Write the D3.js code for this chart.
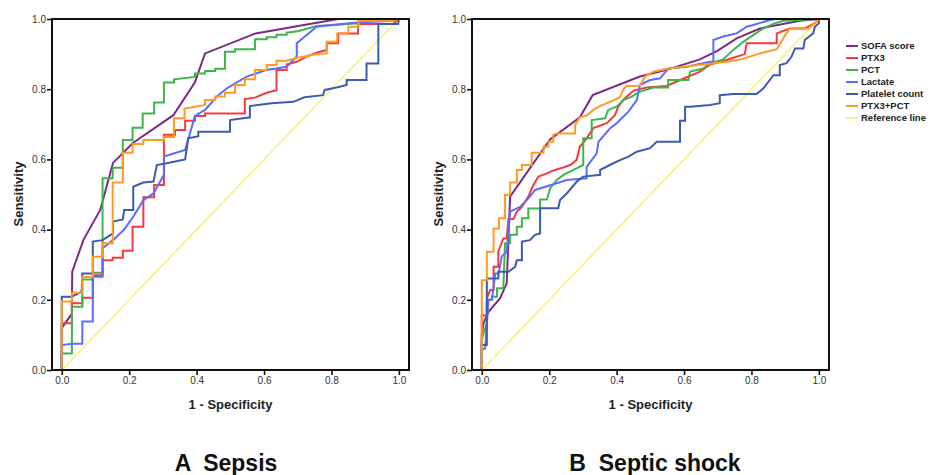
<!DOCTYPE html>
<html>
<head>
<meta charset="utf-8">
<script src="https://cdn.jsdelivr.net/npm/d3@7"></script>
<style>
  body { margin: 0; background: #fff; }
  svg { font-family: 'Liberation Sans', Arial, sans-serif; }
</style>
</head>
<body>
<div id="chart"></div>
<script>
// ---- data ----
var seriesNames = ['SOFA score', 'PTX3', 'PCT', 'Lactate', 'Platelet count', 'PTX3+PCT', 'Reference line'];
var seriesColors = ['#7d2a86', '#f23a3f', '#3cb54a', '#5b6cff', '#3d5cae', '#ff9a22', '#f7f27c'];
var tickValues = [0, 0.2, 0.4, 0.6, 0.8, 1.0];
var panelLabels = ['A  Sepsis', 'B  Septic shock'];

var referenceLine = [[0, 0], [1, 1]];

// A: sepsis
var sepsisSofa = [[0,0],[0,0.12],[0.03,0.16],[0.031,0.28],[0.064,0.37],[0.114,0.456],[0.152,0.59],[0.21,0.646],[0.331,0.726],[0.395,0.82],[0.425,0.902],[0.575,0.959],[0.82,1],[1,1]];
var sepsisPtx3 = [[0,0],[0,0.133],[0.03,0.133],[0.03,0.19],[0.061,0.19],[0.061,0.206],[0.092,0.206],[0.092,0.27],[0.121,0.27],[0.121,0.313],[0.151,0.313],[0.151,0.32],[0.181,0.32],[0.181,0.34],[0.21,0.34],[0.21,0.408],[0.242,0.408],[0.242,0.492],[0.274,0.492],[0.274,0.527],[0.303,0.527],[0.303,0.67],[0.336,0.67],[0.336,0.684],[0.366,0.684],[0.366,0.71],[0.395,0.71],[0.395,0.724],[0.425,0.724],[0.425,0.731],[0.543,0.731],[0.543,0.772],[0.573,0.776],[0.608,0.79],[0.637,0.797],[0.637,0.855],[0.667,0.855],[0.667,0.87],[0.697,0.878],[0.726,0.893],[0.756,0.904],[0.786,0.912],[0.786,0.931],[0.82,0.931],[0.82,0.959],[0.879,0.959],[0.879,0.986],[0.983,0.986],[1,1]];
var sepsisPct = [[0,0],[0,0.047],[0.03,0.047],[0.03,0.18],[0.061,0.18],[0.061,0.258],[0.092,0.258],[0.092,0.277],[0.121,0.277],[0.121,0.546],[0.151,0.546],[0.151,0.576],[0.181,0.576],[0.181,0.655],[0.21,0.655],[0.21,0.69],[0.24,0.69],[0.24,0.731],[0.274,0.731],[0.274,0.762],[0.303,0.762],[0.303,0.819],[0.333,0.819],[0.333,0.828],[0.395,0.835],[0.395,0.845],[0.425,0.845],[0.425,0.852],[0.455,0.852],[0.455,0.858],[0.484,0.858],[0.484,0.907],[0.514,0.907],[0.514,0.914],[0.573,0.914],[0.573,0.942],[0.608,0.942],[0.608,0.948],[0.637,0.948],[0.637,0.955],[0.667,0.955],[0.667,0.961],[0.7,0.965],[0.756,0.98],[0.88,0.988],[0.88,0.995],[0.94,1],[1,1]];
var sepsisLactate = [[0,0],[0,0.071],[0.03,0.075],[0.061,0.075],[0.061,0.138],[0.092,0.138],[0.092,0.266],[0.121,0.266],[0.121,0.347],[0.152,0.37],[0.185,0.4],[0.212,0.437],[0.242,0.484],[0.272,0.503],[0.303,0.556],[0.303,0.608],[0.366,0.627],[0.395,0.724],[0.425,0.741],[0.46,0.779],[0.489,0.802],[0.548,0.836],[0.608,0.855],[0.667,0.864],[0.697,0.893],[0.697,0.931],[0.756,0.978],[0.875,0.99],[0.99,0.995],[1,1]];
var sepsisPlatelet = [[0,0],[0,0.209],[0.03,0.209],[0.059,0.223],[0.061,0.275],[0.092,0.275],[0.092,0.366],[0.121,0.37],[0.152,0.389],[0.152,0.423],[0.181,0.429],[0.185,0.456],[0.212,0.456],[0.212,0.522],[0.242,0.534],[0.272,0.537],[0.282,0.584],[0.311,0.589],[0.366,0.6],[0.375,0.66],[0.405,0.666],[0.405,0.679],[0.499,0.679],[0.499,0.712],[0.558,0.72],[0.558,0.752],[0.622,0.76],[0.687,0.764],[0.72,0.777],[0.775,0.783],[0.78,0.798],[0.815,0.805],[0.845,0.812],[0.845,0.826],[0.904,0.826],[0.904,0.873],[0.939,0.873],[0.939,0.986],[0.998,0.986],[1,1]];
var sepsisCombo = [[0,0],[0,0.195],[0.03,0.195],[0.03,0.22],[0.061,0.22],[0.061,0.265],[0.092,0.265],[0.092,0.323],[0.121,0.323],[0.121,0.361],[0.151,0.361],[0.151,0.534],[0.181,0.534],[0.181,0.619],[0.21,0.619],[0.21,0.644],[0.242,0.644],[0.242,0.655],[0.303,0.655],[0.303,0.664],[0.333,0.664],[0.333,0.717],[0.364,0.717],[0.364,0.745],[0.395,0.75],[0.425,0.755],[0.425,0.769],[0.455,0.769],[0.455,0.779],[0.484,0.779],[0.484,0.79],[0.514,0.79],[0.514,0.812],[0.543,0.812],[0.543,0.828],[0.573,0.828],[0.573,0.855],[0.608,0.855],[0.608,0.869],[0.637,0.869],[0.637,0.881],[0.667,0.881],[0.697,0.889],[0.756,0.9],[0.786,0.902],[0.786,0.935],[0.817,0.935],[0.817,0.959],[0.85,0.959],[0.85,0.978],[0.88,0.978],[0.88,0.995],[0.98,0.995],[1,1]];

// B: septic shock
var shockSofa = [[0,0],[0,0.1],[0.005,0.133],[0.02,0.166],[0.054,0.204],[0.074,0.247],[0.084,0.494],[0.2025,0.657],[0.291,0.72],[0.329,0.783],[0.469,0.836],[0.548,0.855],[0.647,0.885],[0.7,0.91],[0.756,0.945],[0.825,0.973],[0.944,0.995],[1,1]];
var shockPtx3 = [[0,0],[0,0.155],[0.015,0.155],[0.015,0.204],[0.025,0.228],[0.035,0.228],[0.035,0.294],[0.049,0.294],[0.049,0.337],[0.064,0.375],[0.074,0.375],[0.079,0.43],[0.094,0.43],[0.104,0.451],[0.119,0.465],[0.138,0.494],[0.153,0.527],[0.168,0.551],[0.193,0.56],[0.217,0.57],[0.242,0.577],[0.262,0.584],[0.281,0.598],[0.291,0.636],[0.311,0.66],[0.331,0.689],[0.371,0.703],[0.395,0.726],[0.405,0.75],[0.42,0.77],[0.45,0.796],[0.489,0.805],[0.548,0.809],[0.608,0.834],[0.647,0.85],[0.677,0.87],[0.726,0.883],[0.78,0.9],[0.786,0.931],[0.875,0.931],[0.875,0.959],[0.914,0.973],[0.958,0.973],[0.988,0.988],[1,1]];
var shockPct = [[0,0],[0,0.085],[0.005,0.104],[0.015,0.133],[0.015,0.2],[0.03,0.2],[0.03,0.209],[0.045,0.209],[0.045,0.233],[0.064,0.233],[0.069,0.361],[0.084,0.361],[0.084,0.385],[0.104,0.385],[0.104,0.408],[0.119,0.408],[0.119,0.432],[0.138,0.432],[0.138,0.46],[0.173,0.46],[0.173,0.486],[0.193,0.486],[0.203,0.518],[0.222,0.541],[0.242,0.556],[0.272,0.57],[0.301,0.584],[0.301,0.66],[0.326,0.66],[0.326,0.712],[0.366,0.717],[0.375,0.741],[0.4,0.75],[0.42,0.769],[0.445,0.779],[0.469,0.793],[0.509,0.805],[0.553,0.805],[0.553,0.826],[0.613,0.826],[0.618,0.85],[0.657,0.859],[0.677,0.874],[0.716,0.885],[0.746,0.912],[0.776,0.935],[0.805,0.954],[0.835,0.973],[0.865,0.986],[0.894,0.995],[1,1]];
var shockLactate = [[0,0],[0,0.057],[0.01,0.062],[0.02,0.2],[0.03,0.2],[0.04,0.275],[0.05,0.275],[0.059,0.323],[0.074,0.337],[0.084,0.451],[0.114,0.465],[0.143,0.494],[0.158,0.513],[0.222,0.532],[0.252,0.541],[0.311,0.546],[0.311,0.579],[0.341,0.617],[0.346,0.65],[0.38,0.688],[0.4,0.703],[0.435,0.736],[0.46,0.769],[0.469,0.812],[0.499,0.826],[0.529,0.831],[0.553,0.859],[0.608,0.864],[0.677,0.878],[0.687,0.878],[0.687,0.94],[0.716,0.95],[0.756,0.959],[0.786,0.978],[0.805,0.983],[0.855,0.997],[0.87,1],[1,1]];
var shockPlatelet = [[0,0],[0,0.071],[0.015,0.071],[0.015,0.261],[0.049,0.261],[0.049,0.28],[0.079,0.28],[0.099,0.294],[0.104,0.313],[0.119,0.313],[0.119,0.366],[0.143,0.37],[0.158,0.385],[0.173,0.389],[0.173,0.461],[0.227,0.461],[0.232,0.484],[0.252,0.503],[0.282,0.537],[0.301,0.551],[0.351,0.556],[0.351,0.57],[0.37,0.579],[0.39,0.589],[0.41,0.598],[0.435,0.608],[0.46,0.622],[0.499,0.632],[0.519,0.65],[0.588,0.65],[0.588,0.71],[0.603,0.71],[0.603,0.75],[0.62,0.75],[0.677,0.755],[0.706,0.76],[0.706,0.783],[0.746,0.786],[0.815,0.786],[0.835,0.802],[0.85,0.821],[0.865,0.84],[0.884,0.84],[0.884,0.869],[0.904,0.874],[0.919,0.893],[0.929,0.916],[0.954,0.916],[0.958,0.94],[0.983,0.959],[0.988,0.978],[1,0.988],[1,1]];
var shockCombo = [[0,0],[0,0.256],[0.015,0.256],[0.015,0.337],[0.035,0.337],[0.035,0.403],[0.051,0.403],[0.051,0.432],[0.069,0.432],[0.069,0.499],[0.084,0.499],[0.084,0.534],[0.104,0.534],[0.104,0.57],[0.119,0.57],[0.119,0.584],[0.148,0.584],[0.148,0.619],[0.183,0.619],[0.183,0.636],[0.198,0.636],[0.198,0.65],[0.212,0.65],[0.212,0.67],[0.222,0.674],[0.277,0.674],[0.277,0.698],[0.291,0.72],[0.311,0.725],[0.331,0.741],[0.35,0.752],[0.38,0.764],[0.41,0.777],[0.42,0.8],[0.43,0.809],[0.469,0.81],[0.484,0.836],[0.509,0.85],[0.553,0.859],[0.726,0.878],[0.77,0.885],[0.825,0.902],[0.875,0.914],[0.9,0.954],[0.914,0.973],[0.968,0.973],[0.988,0.988],[1,1]];

var sepsisSeries = [sepsisSofa, sepsisPtx3, sepsisPct, sepsisLactate, sepsisPlatelet, sepsisCombo, referenceLine];
var shockSeries = [shockSofa, shockPtx3, shockPct, shockLactate, shockPlatelet, shockCombo, referenceLine];

// ---- layout ----
var width = 933, height = 475;
var plot = { left: 52, top: 19, right: 409, bottom: 370 };
var panelOffset = 420;

var svg = d3.select('#chart').append('svg')
    .attr('width', width)
    .attr('height', height);

var x = d3.scaleLinear().domain([-0.029, 1.03]).range([plot.left, plot.right]);
var y = d3.scaleLinear().domain([0, 1]).range([plot.bottom, plot.top]);

var line = d3.line()
    .x(d => x(d[0]))
    .y(d => y(d[1]));

function drawPanel(offset, series, label) {
    var g = svg.append('g').attr('transform', `translate(${offset},0)`);

    // curves, reference line under the rest
    g.append('path')
        .datum(series[6])
        .attr('fill', 'none')
        .attr('stroke', seriesColors[6])
        .attr('stroke-width', 1.6)
        .attr('d', line);

    series.slice(0, 6).forEach(function (s, i) {
        g.append('path')
            .datum(s)
            .attr('fill', 'none')
            .attr('stroke', seriesColors[i])
            .attr('stroke-width', 2)
            .attr('stroke-linejoin', 'miter')
            .attr('d', line);
    });

    // frame
    g.append('rect')
        .attr('x', plot.left)
        .attr('y', plot.top)
        .attr('width', plot.right - plot.left)
        .attr('height', plot.bottom - plot.top)
        .attr('fill', 'none')
        .attr('stroke', '#111')
        .attr('stroke-width', 2);

    var xAxis = d3.axisBottom(x).tickValues(tickValues).tickFormat(d3.format('.1f')).tickSize(5).tickPadding(2);
    var yAxis = d3.axisLeft(y).tickValues(tickValues).tickFormat(d3.format('.1f')).tickSize(5).tickPadding(1);

    var gx = g.append('g').attr('transform', `translate(0,${plot.bottom})`).call(xAxis);
    var gy = g.append('g').attr('transform', `translate(${plot.left},0)`).call(yAxis);
    [gx, gy].forEach(function (a) {
        a.select('.domain').remove();
        a.selectAll('line').attr('stroke', '#111').attr('stroke-width', 1.6);
        a.selectAll('text')
            .style('font-family', 'Liberation Sans, Arial, sans-serif')
            .style('font-size', '10px')
            .attr('fill', '#333');
    });

    g.append('text')
        .attr('x', (plot.left + plot.right) / 2 - 0)
        .attr('y', 409)
        .attr('text-anchor', 'middle')
        .style('font-size', '13px')
        .style('font-weight', 'bold')
        .attr('fill', '#222')
        .text('1 - Specificity');

    g.append('text')
        .attr('transform', 'rotate(-90)')
        .attr('x', -194)
        .attr('y', 23)
        .attr('text-anchor', 'middle')
        .style('font-size', '13px')
        .style('font-weight', 'bold')
        .attr('fill', '#222')
        .text('Sensitivity');

    g.append('text')
        .attr('x', 226 + (offset ? 9 : 0))
        .attr('y', 471)
        .attr('text-anchor', 'middle')
        .style('font-size', '23px')
        .style('font-weight', 'bold')
        .style('white-space', 'pre')
        .attr('fill', '#111')
        .text(label);
}

drawPanel(0, sepsisSeries, panelLabels[0]);
drawPanel(panelOffset, shockSeries, panelLabels[1]);

// legend
var legend = svg.append('g').attr('transform', 'translate(846,46)');
seriesNames.forEach(function (name, i) {
    var row = legend.append('g').attr('transform', `translate(0,${i * 12})`);
    row.append('line')
        .attr('x1', 0).attr('x2', 12)
        .attr('stroke', seriesColors[i])
        .attr('stroke-width', 2);
    row.append('text')
        .attr('x', 15)
        .attr('dy', '0.35em')
        .style('font-size', '9.5px')
        .style('font-weight', 'bold')
        .attr('fill', '#222')
        .text(name);
});
</script>
</body>
</html>
